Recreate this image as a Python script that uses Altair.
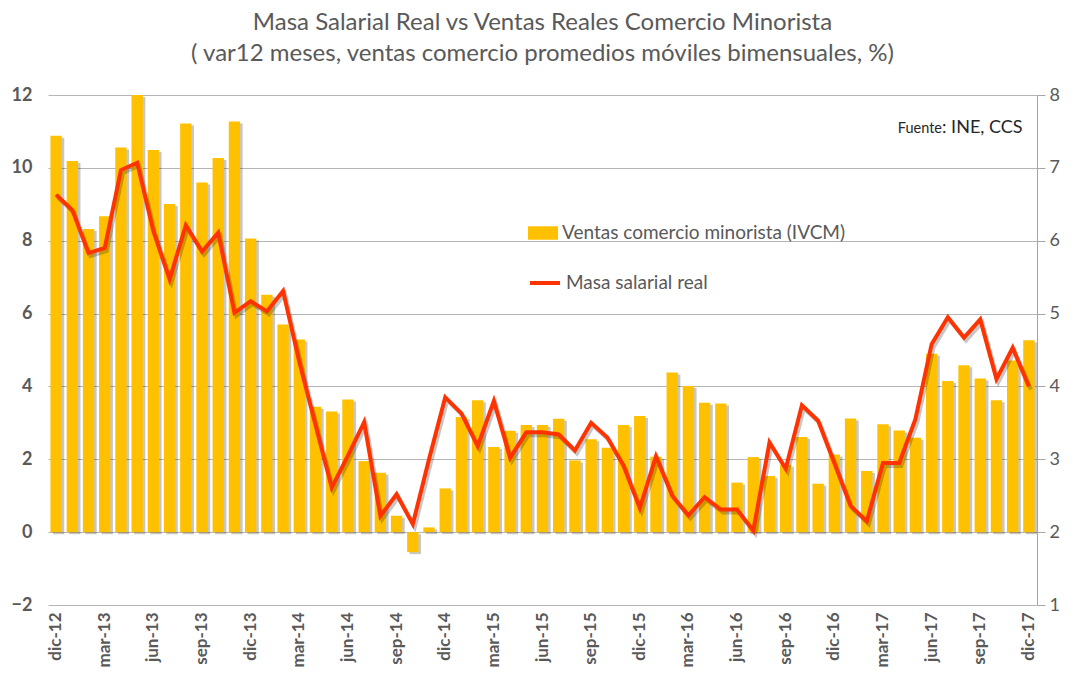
import altair as alt
import pandas as pd

meses_abbr = ["ene", "feb", "mar", "abr", "may", "jun", "jul", "ago", "sep", "oct", "nov", "dic"]
anios = ["13", "14", "15", "16", "17"]
meses = ["dic-12"] + [f"{m}-{a}" for a in anios for m in meses_abbr]
tick_labels = meses[::3]

# Ventas comercio minorista (IVCM), eje izquierdo, %
ventas = [10.88, 10.19, 8.32, 8.67, 10.56, 12.0, 10.49, 9.01, 11.22, 9.60,
          10.27, 11.27, 8.06, 6.52, 5.70, 5.29, 3.44, 3.31, 3.64, 1.95,
          1.63, 0.45, -0.55, 0.13, 1.20, 3.16, 3.62, 2.34, 2.78, 2.94,
          2.94, 3.11, 1.97, 2.55, 2.32, 2.94, 3.19, 2.07, 4.38, 4.01,
          3.55, 3.53, 1.36, 2.06, 1.54, 1.85, 2.61, 1.33, 2.13, 3.12,
          1.68, 2.96, 2.79, 2.59, 4.90, 4.15, 4.58, 4.22, 3.62, 4.71,
          5.27]

# Masa salarial real, eje derecho, %
masa = [6.63, 6.42, 5.83, 5.90, 6.97, 7.07, 6.13, 5.47, 6.21, 5.85,
        6.11, 5.01, 5.17, 5.03, 5.31, 4.34, 3.47, 2.61, 3.05, 3.51,
        2.22, 2.52, 2.11, 3.00, 3.85, 3.63, 3.18, 3.80, 3.02, 3.37,
        3.37, 3.34, 3.12, 3.50, 3.30, 2.91, 2.33, 3.04, 2.50, 2.23,
        2.48, 2.31, 2.31, 2.02, 3.23, 2.87, 3.74, 3.53, 2.95, 2.36,
        2.15, 2.95, 2.95, 3.55, 4.58, 4.95, 4.67, 4.92, 4.10, 4.53,
        4.00]

serie_barras = "Ventas comercio minorista (IVCM)"
serie_linea = "Masa salarial real"

df = pd.DataFrame({"mes": meses, "ventas": ventas, "masa": masa})

GRAY = "#595959"
FONT = "Lato"
BAR = "#FFC000"
LINE = "#FF3300"

x_enc = alt.X(
    "mes:N", sort=meses,
    scale=alt.Scale(paddingInner=0.3, paddingOuter=0.15),
    axis=alt.Axis(values=tick_labels, labelAngle=270, labelFontSize=17,
                  labelFontWeight="bold", labelColor=GRAY, labelFont=FONT,
                  labelPadding=7, ticks=False, domain=False, title=None,
                  labelAlign="right", labelBaseline="middle"),
)

y_left = alt.Y(
    "ventas:Q",
    scale=alt.Scale(domain=[-2, 12], nice=False, zero=False),
    axis=alt.Axis(values=[-2, 0, 2, 4, 6, 8, 10, 12], ticks=False, domain=False,
                  labelFontSize=18, labelColor=GRAY, labelFont=FONT,
                  labelFontWeight="bold", labelPadding=16,
                  gridColor="#b5b5b5", gridWidth=1, title=None),
)

y_right = alt.Y(
    "masa:Q",
    scale=alt.Scale(domain=[1, 8], nice=False, zero=False),
    axis=alt.Axis(orient="right", values=[1, 2, 3, 4, 5, 6, 7, 8], grid=False,
                  domainColor="#a6a6a6", tickColor="#a6a6a6", tickSize=8,
                  labelPadding=4, labelFontSize=18, labelColor=GRAY,
                  labelFont=FONT, title=None),
)

base = alt.Chart(df)

bar_shadow = base.mark_bar(color="#000000", opacity=0.22, xOffset=2.5, yOffset=2).encode(
    x=x_enc, y=y_left
)

bars = base.transform_calculate(serie=f"'{serie_barras}'").mark_bar().encode(
    x=x_enc, y=y_left,
    fill=alt.Fill("serie:N", scale=alt.Scale(domain=[serie_barras], range=[BAR]),
                  legend=alt.Legend(orient="none", legendX=480, legendY=123,
                                    title=None, padding=0,
                                    symbolType="M-1,-0.45H1V0.45H-1Z",
                                    symbolSize=900, symbolStrokeWidth=0,
                                    labelFontSize=19, labelColor=GRAY,
                                    labelFont=FONT, labelOffset=4, labelLimit=400)),
)

line_shadow = base.mark_line(color="#000000", opacity=0.22, strokeWidth=4,
                             xOffset=2, yOffset=3).encode(x=x_enc, y=y_right)

line = base.transform_calculate(serie=f"'{serie_linea}'").mark_line(strokeWidth=4).encode(
    x=x_enc, y=y_right,
    stroke=alt.Stroke("serie:N", scale=alt.Scale(domain=[serie_linea], range=[LINE]),
                      legend=alt.Legend(orient="none", legendX=480, legendY=171,
                                        title=None, padding=0,
                                        symbolType="stroke", symbolSize=900,
                                        symbolStrokeWidth=4,
                                        labelFontSize=19, labelColor=GRAY,
                                        labelFont=FONT, labelOffset=4, labelLimit=400)),
)

fuente_df = pd.DataFrame({"a": ["Fuente"], "b": [": INE, CCS"]})
fuente1 = alt.Chart(fuente_df).mark_text(
    align="right", baseline="alphabetic", fontSize=14.5, font=FONT, color="#262626"
).encode(x=alt.value(894), y=alt.value(38), text="a:N")
fuente2 = alt.Chart(fuente_df).mark_text(
    align="left", baseline="alphabetic", fontSize=18, font=FONT, color="#262626"
).encode(x=alt.value(894), y=alt.value(38), text="b:N")

left = alt.layer(bar_shadow, bars)
right = alt.layer(line_shadow, line, fuente1, fuente2)

chart = alt.layer(left, right).resolve_scale(y="independent").properties(
    width=989,
    height=510,
    title=alt.Title(
        ["Masa Salarial Real vs Ventas Reales Comercio Minorista",
         "( var12 meses, ventas comercio promedios móviles bimensuales, %)"],
        fontSize=24, font=FONT, color=GRAY, fontWeight="normal",
        anchor="middle", offset=20, lineHeight=31,
    ),
    autosize=alt.AutoSizeParams(type="none"),
    padding={"left": 40, "top": 87, "right": 35, "bottom": 66},
).configure_view(stroke=None)

chart.save("out.html", embed_options={"renderer": "svg", "actions": False})
